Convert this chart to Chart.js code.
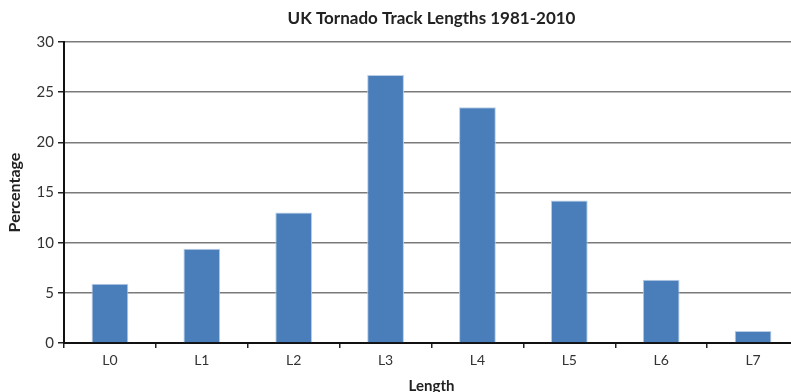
<!DOCTYPE html>
<html>
<head>
<meta charset="utf-8">
<script src="https://cdn.jsdelivr.net/npm/chart.js@4/dist/chart.umd.min.js"></script>
<style>
  html, body { margin: 0; padding: 0; background: #fff; }
  /* the plot runs slightly past the right edge of the frame */
  #wrap { width: 791px; height: 392px; overflow: hidden; }
</style>
</head>
<body>
<div id="wrap"><canvas id="c" width="800" height="392"></canvas></div>
<script>
// Share of UK tornadoes by track-length class, 1981-2010
const categories = ['L0', 'L1', 'L2', 'L3', 'L4', 'L5', 'L6', 'L7'];
const percentages = [5.9, 9.4, 13.0, 26.7, 23.5, 14.2, 6.3, 1.2];
const chartTitle = 'UK Tornado Track Lengths 1981-2010';
const xTitle = 'Length';
const yTitle = 'Percentage';

const FONT = "Lato, 'Liberation Sans', sans-serif";

// Title centred over the plotting area
const titlePlugin = {
  id: 'centredTitle',
  afterDraw(chart) {
    const { ctx, chartArea } = chart;
    ctx.save();
    ctx.font = 'bold 17px ' + FONT;
    ctx.fillStyle = '#222';
    ctx.textAlign = 'center';
    ctx.textBaseline = 'middle';
    ctx.fillText(chartTitle, (chartArea.left + chartArea.right) / 2, 19);
    ctx.restore();
  }
};

new Chart(document.getElementById('c'), {
  type: 'bar',
  data: {
    labels: categories,
    datasets: [{
      data: percentages,
      backgroundColor: '#4a7ebb',
      borderColor: '#b9cde6',
      borderWidth: 1,
      categoryPercentage: 0.40,
      barPercentage: 1.0
    }]
  },
  options: {
    responsive: false,
    animation: false,
    layout: { padding: { top: 42, right: 1, left: 0, bottom: 0 } },
    plugins: { legend: { display: false }, tooltip: { enabled: false } },
    scales: {
      x: {
        offset: true,
        grid: { offset: true, drawOnChartArea: false, drawTicks: true, tickLength: 5, color: '#222', lineWidth: 1.5 },
        border: { display: true, color: '#111', width: 2 },
        ticks: { color: '#333', font: { family: FONT, size: 14 }, padding: 4 },
        title: { display: true, text: xTitle, color: '#222', font: { family: FONT, size: 15, weight: 'bold', lineHeight: 0.8 }, padding: { top: 0, bottom: 0 } },
        afterFit(scale) { scale.height = 49; }
      },
      y: {
        min: 0,
        max: 30,
        ticks: { stepSize: 5, color: '#333', font: { family: FONT, size: 15 }, padding: 4 },
        grid: { color: '#7a7a7a', lineWidth: 1.5, tickLength: 6, tickColor: '#222' },
        border: { display: true, color: '#111', width: 2 },
        title: { display: true, text: yTitle, color: '#222', font: { family: FONT, size: 16, weight: 'bold' }, padding: { top: 5, bottom: 0 } },
        afterFit(scale) { scale.width = 64; }
      }
    }
  },
  plugins: [titlePlugin]
});
</script>
</body>
</html>
